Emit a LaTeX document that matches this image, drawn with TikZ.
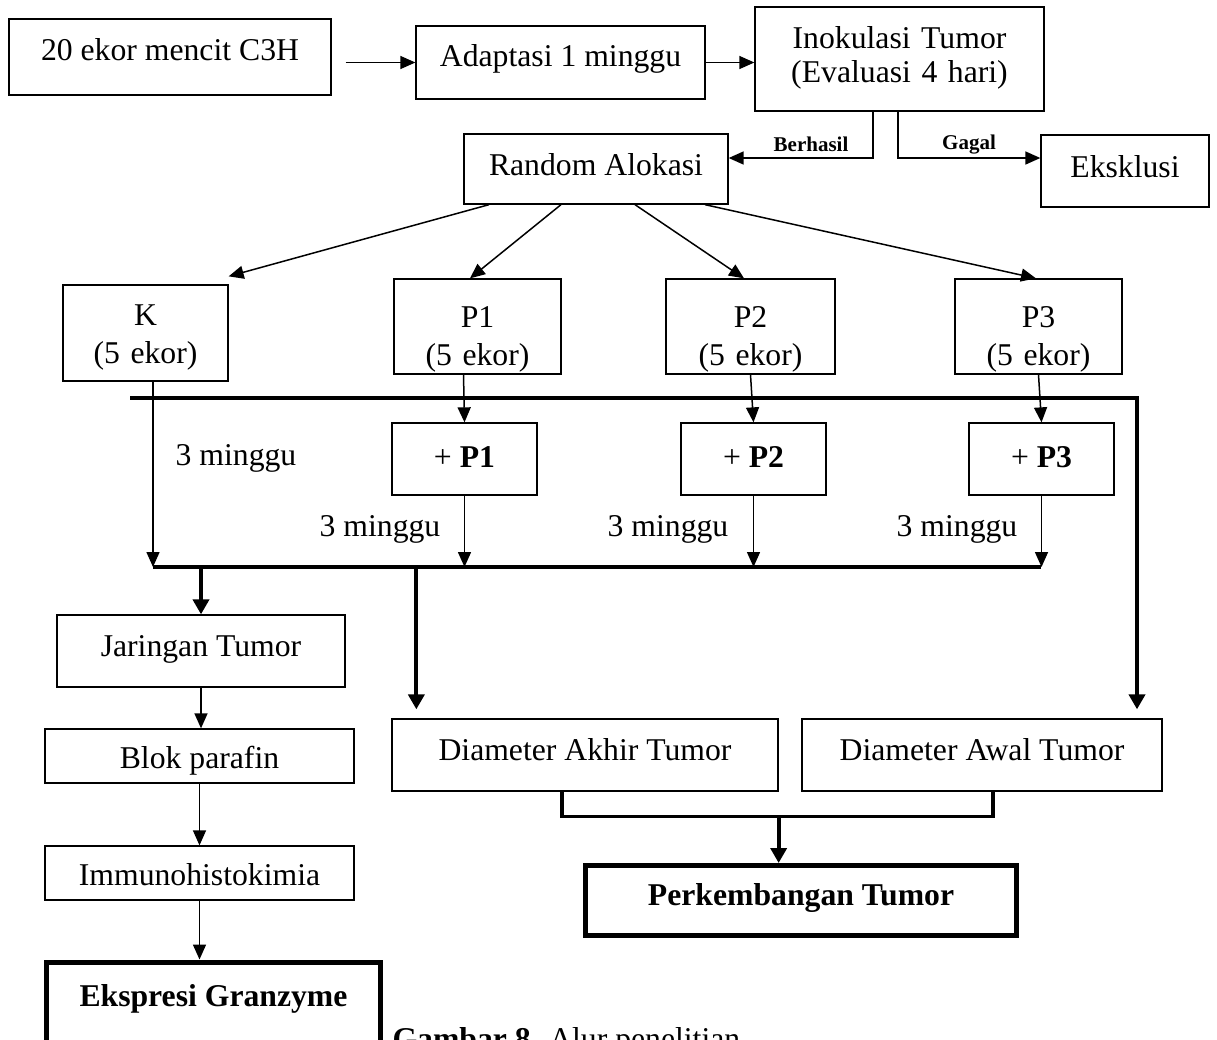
\documentclass[tikz,border=0pt]{standalone}
\usepackage{fontspec}
\setmainfont{Liberation Serif}
\usetikzlibrary{arrows.meta,positioning}

\newcommand{\boxfont}{\fontsize{31.7pt}{38pt}\selectfont}
\newcommand{\tagfont}{\fontsize{21pt}{24pt}\selectfont\bfseries}

\begin{document}
\begin{tikzpicture}[
        x=1pt, y=-1pt,
        box/.style={draw, line width=1.3pt, inner sep=0pt, font=\boxfont, text height=22pt, text depth=10pt},
        group/.style={box, text width=150pt, align=center},
        plusbox/.style={box, minimum width=145pt, minimum height=72pt, text depth=5pt},
        result/.style={box, line width=5pt, font=\boxfont\bfseries},
        arrow/.style={-{Triangle[length=15pt,width=13pt]}, line width=1.5pt},
        thickarrow/.style={-{Triangle[length=15pt,width=16pt]}, line width=4pt},
        bigbar/.style={line width=4.5pt},
        bracket/.style={line width=3.5pt},
        tag/.style={font=\tagfont, anchor=base},
        weeks/.style={font=\boxfont, anchor=base}
    ]
    \useasboundingbox (0,0) rectangle (1217,1039);

    % Top row
    \node[box, minimum width=322pt, minimum height=76pt, text depth=15pt] (mice) at (170,57) {20 ekor mencit C3H};
    \node[box, minimum width=289pt, minimum height=73pt, text depth=15pt] (adapt) at (560.5,62.5) {Adaptasi 1 minggu};
    \node[box, minimum width=289pt, minimum height=104pt, text width=280pt, align=center,
          font={\fontsize{31.7pt}{34pt}\selectfont}, text depth=44pt] (inok) at (899.5,59) {Inokulasi Tumor\\(Evaluasi 4 hari)};
    \node[box, minimum width=264pt, minimum height=70pt, text depth=9pt] (rand) at (596,169) {Random Alokasi};
    \node[box, minimum width=168pt, minimum height=72pt, text depth=9pt] (eks) at (1125,171) {Eksklusi\hspace{18pt}};

    % Groups
    \node[group, minimum width=165pt, minimum height=96pt, text depth=38pt] (kk) at (145.5,333) {K\\(5 ekor)};
    \node[group, minimum width=167pt, minimum height=95pt, text depth=21pt] (p1) at (477.5,326.5) {P1\\(5 ekor)};
    \node[group, minimum width=169pt, minimum height=95pt, text depth=21pt] (p2) at (750.5,326.5) {P2\\(5 ekor)};
    \node[group, minimum width=167pt, minimum height=95pt, text depth=21pt] (p3) at (1038.5,326.5) {P3\\(5 ekor)};

    % Treatment boxes
    \node[plusbox] (pl1) at (464.5,459) {+ \textbf{P1}};
    \node[plusbox] (pl2) at (753.5,459) {+ \textbf{P2}};
    \node[plusbox] (pl3) at (1041.5,459) {+ \textbf{P3}};

    % Bottom boxes
    \node[box, minimum width=288pt, minimum height=72pt, text depth=11pt] (jar) at (201,651) {Jaringan Tumor};
    \node[box, minimum width=309pt, minimum height=54pt, text height=25pt, text depth=0pt] (blok) at (199.5,756) {Blok parafin};
    \node[box, minimum width=309pt, minimum height=54pt, text height=25pt, text depth=0pt] (immuno) at (199.5,873) {Immunohistokimia};
    \node[result, minimum width=334pt, minimum height=100pt, text depth=33pt] (eksp) at (213.5,1012) {Ekspresi Granzyme};
    \node[box, minimum width=386pt, minimum height=72pt, text depth=11pt] (akhir) at (585,755) {Diameter Akhir Tumor};
    \node[box, minimum width=360pt, minimum height=72pt, text depth=11pt] (awal) at (982,755) {Diameter Awal Tumor};
    \node[result, minimum width=431pt, minimum height=70pt, text depth=12pt] (perk) at (801,900.5) {Perkembangan Tumor};

    % Bars
    \coordinate (topbarw) at (130,398);
    \coordinate (topbare) at (1137,398);
    \coordinate (lowbarw) at (153,567);
    \coordinate (lowbare) at (1041,567);
    \coordinate (akhirin) at ([xshift=25pt]akhir.north west);

    % Top flow
    \draw[arrow, shorten <=14pt] (mice.east |- adapt.west) -- (adapt.west);
    \draw[arrow] (adapt.east) -- (adapt.east -| inok.west);
    \draw[arrow] ([xshift=-26.5pt]inok.south) |- ([yshift=11pt]rand.east);
    \draw[arrow] ([xshift=-1.5pt]inok.south) |- ([yshift=13pt]eks.west);
    \node[tag] (ok) at (811,151) {Berhasil};
    \node[tag] (fail) at (969,149) {Gagal};

    % Allocation
    \draw[arrow] ([xshift=-107pt]rand.south) -- ([yshift=8pt]kk.north east);
    \draw[arrow] ([xshift=-35pt]rand.south) -- ([xshift=-7.5pt]p1.north);
    \draw[arrow] ([xshift=39pt]rand.south) -- ([xshift=-6.5pt]p2.north);
    \draw[arrow] ([xshift=109pt]rand.south) -- ([xshift=-2.5pt]p3.north);

    % Treatment
    \draw[thickarrow, shorten >=9pt] (topbarw) -- (topbare) -- (topbare |- awal.north);
    \draw[bigbar] (lowbarw) -- (lowbare);
    \draw[arrow] (kk.south -| lowbarw) -- (lowbarw);
    \draw[arrow] ([xshift=-14pt]p1.south) -- (pl1.north);
    \draw[arrow] (p2.south) -- (pl2.north);
    \draw[arrow] (p3.south) -- (pl3.north);
    \draw[arrow] (pl1.south) -- (pl1.south |- lowbarw);
    \draw[arrow] (pl2.south) -- (pl2.south |- lowbarw);
    \draw[arrow] (pl3.south) -- (pl3.south |- lowbarw);
    \node[weeks] (w0) at (236,465) {3 minggu};
    \node[weeks] (w1) at (380,536) {3 minggu};
    \node[weeks] (w2) at (668,536) {3 minggu};
    \node[weeks] (w3) at (957,536) {3 minggu};

    % Measurements
    \draw[thickarrow] (jar.north |- lowbarw) -- (jar.north);
    \draw[thickarrow, shorten >=9pt] (akhirin |- lowbarw) -- (akhirin);
    \draw[arrow] (jar.south) -- (jar.south |- blok.north);
    \draw[arrow] (blok.south) -- (blok.south |- immuno.north);
    \draw[arrow] (immuno.south) -- (immuno.south |- eksp.north);
    \draw[bracket] ([xshift=-23pt]akhir.south) -- ++(0,25) coordinate (meet) -| ([xshift=11pt]awal.south);
    \draw[thickarrow] (meet -| akhir.south east) -- (akhir.south east |- perk.north);

    % Caption
    \node[font=\boxfont, anchor=base west] (caption) at (389,1049.5) {\textbf{Gambar 8.} Alur penelitian};
\end{tikzpicture}
\end{document}
